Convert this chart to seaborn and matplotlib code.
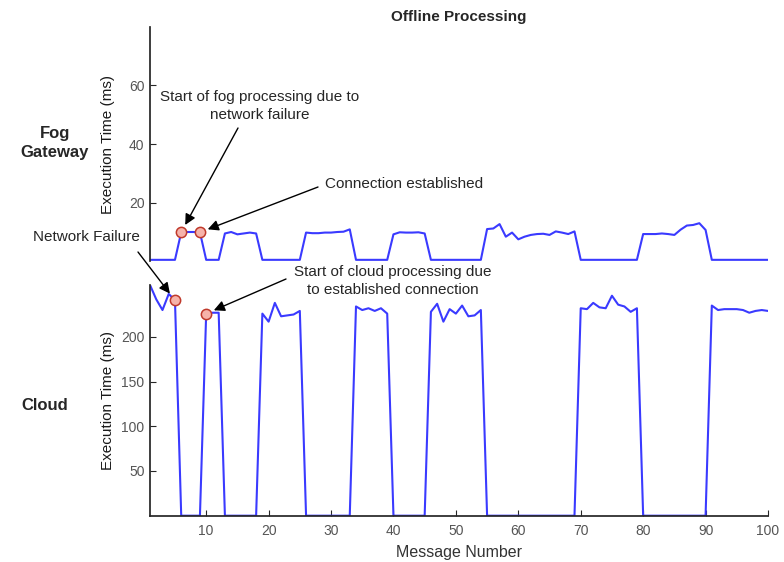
import numpy as np
import pandas as pd
import matplotlib
matplotlib.use("Agg")
import matplotlib.pyplot as plt
import seaborn as sns

# ---------------- data ----------------
message = list(range(1, 101))

fog_time = [
    0.5, 0.5, 0.5, 0.5, 0.5, 9.9, 10.0, 10.0, 9.9, 0.5,          # 1-10
    0.5, 0.5, 9.5, 10.0, 9.2, 9.5, 9.8, 9.5, 0.5, 0.5,           # 11-20
    0.5, 0.5, 0.5, 0.5, 0.5, 9.8, 9.6, 9.6, 9.8, 9.8,            # 21-30
    10.0, 10.1, 10.9, 0.5, 0.5, 0.5, 0.5, 0.5, 0.5, 9.2,         # 31-40
    9.9, 9.8, 9.8, 9.9, 9.5, 0.5, 0.5, 0.5, 0.5, 0.5,            # 41-50
    0.5, 0.5, 0.5, 0.5, 11.0, 11.2, 12.7, 8.4, 9.8, 7.5,         # 51-60
    8.4, 9.0, 9.3, 9.4, 9.0, 10.2, 9.8, 9.3, 10.2, 0.5,          # 61-70
    0.5, 0.5, 0.5, 0.5, 0.5, 0.5, 0.5, 0.5, 0.5, 9.3,            # 71-80
    9.3, 9.3, 9.5, 9.3, 9.0, 10.8, 12.2, 12.4, 13.0, 10.7,       # 81-90
    0.5, 0.5, 0.5, 0.5, 0.5, 0.5, 0.5, 0.5, 0.5, 0.5,            # 91-100
]

cloud_time = [
    258, 242, 230, 248, 241, 0, 0, 0, 0, 226,                    # 1-10
    227, 227, 0, 0, 0, 0, 0, 0, 226, 217,                        # 11-20
    238, 223, 224, 225, 229, 0, 0, 0, 0, 0,                      # 21-30
    0, 0, 0, 234, 230, 232, 229, 232, 226, 0,                    # 31-40
    0, 0, 0, 0, 0, 228, 237, 217, 231, 226,                      # 41-50
    235, 223, 224, 230, 0, 0, 0, 0, 0, 0,                        # 51-60
    0, 0, 0, 0, 0, 0, 0, 0, 0, 232,                              # 61-70
    231, 238, 233, 232, 246, 236, 234, 228, 232, 0,              # 71-80
    0, 0, 0, 0, 0, 0, 0, 0, 0, 0,                                # 81-90
    235, 230, 231, 231, 231, 230, 227, 229, 230, 229,            # 91-100
]

fog_events = [6, 9]      # start of fog processing, connection established
cloud_events = [5, 10]   # network failure, start of cloud processing

fog_yticks = [20, 40, 60]
cloud_yticks = [50, 100, 150, 200]
x_ticks = [10, 20, 30, 40, 50, 60, 70, 80, 90, 100]

title = "Offline Processing"
ylabel = "Execution Time (ms)"
xlabel = "Message Number"

df = pd.DataFrame({"msg": message, "fog": fog_time, "cloud": cloud_time})

# ---------------- style ----------------
sns.set_theme(style="white")
plt.rcParams["font.family"] = ["Liberation Sans", "DejaVu Sans"]

W, H = 784, 562
fig = plt.figure(figsize=(W / 100, H / 100), dpi=100)

def fx(px):
    return px / W

def fy(py):
    return 1 - py / H

left, right = 150, 768
ax_top = fig.add_axes([fx(left), fy(261.3), fx(right - left), (261.3 - 26.9) / H])
ax_bot = fig.add_axes([fx(left), fy(515.7), fx(right - left), (515.7 - 285.0) / H])

line_color = "#3a3aff"
spine_color = "#262626"
tick_color = "#555555"

# top: fog gateway
sns.lineplot(data=df, x="msg", y="fog", ax=ax_top, color=line_color, linewidth=1.5)
fog_ev = df[df["msg"].isin(fog_events)]
sns.scatterplot(data=fog_ev, x="msg", y="fog", ax=ax_top, color="#f6b3aa",
                edgecolor="#c0392b", linewidth=1.1, s=55, zorder=5)
ax_top.set_xlim(1, 100)
ax_top.set_ylim(0, 80)
ax_top.set_yticks(fog_yticks)
ax_top.set_xticks([])
for s in ["top", "right", "bottom"]:
    ax_top.spines[s].set_visible(False)
ax_top.spines["left"].set_color(spine_color)
ax_top.set_xlabel("")
ax_top.set_ylabel(ylabel, fontsize=11, color="#1a1a1a")
ax_top.set_title(title, fontsize=11, fontweight="bold", pad=4)

# bottom: cloud
sns.lineplot(data=df, x="msg", y="cloud", ax=ax_bot, color=line_color, linewidth=1.5)
cloud_ev = df[df["msg"].isin(cloud_events)]
sns.scatterplot(data=cloud_ev, x="msg", y="cloud", ax=ax_bot, color="#f6b3aa",
                edgecolor="#c0392b", linewidth=1.1, s=55, zorder=5)
ax_bot.set_xlim(1, 100)
ax_bot.set_ylim(0, max(cloud_time))
ax_bot.set_yticks(cloud_yticks)
ax_bot.set_xticks(x_ticks)
for s in ["top", "right"]:
    ax_bot.spines[s].set_visible(False)
for s in ["left", "bottom"]:
    ax_bot.spines[s].set_color(spine_color)
ax_bot.set_xlabel(xlabel, fontsize=11.5, color="#333333", labelpad=5)
ax_bot.set_ylabel(ylabel, fontsize=11, color="#1a1a1a")

for ax in (ax_top, ax_bot):
    ax.tick_params(axis="y", left=True, direction="in", length=4, width=0.8,
                   color=spine_color, labelsize=10, labelcolor=tick_color, pad=4)
    ax.yaxis.set_label_coords(-0.057, 0.5)
    ax.patch.set_alpha(0)
ax_bot.tick_params(axis="x", bottom=True, direction="in", length=4, width=0.8,
                   color=spine_color, labelsize=10, labelcolor=tick_color, pad=6)

# row labels
fig.text(fx(55), fy(143), "Fog\nGateway", ha="center", va="center",
         fontsize=12, fontweight="bold", linespacing=1.3)
fig.text(fx(45), fy(405), "Cloud", ha="center", va="center",
         fontsize=12, fontweight="bold")

# annotations
ann_fs = 11
fig.text(fx(260), fy(106), "Start of fog processing due to\nnetwork failure",
         ha="center", va="center", fontsize=ann_fs, multialignment="center",
         linespacing=1.3)
fig.text(fx(325), fy(184), "Connection established", ha="left", va="center",
         fontsize=ann_fs)
fig.text(fx(33), fy(237), "Network Failure", ha="left", va="center",
         fontsize=ann_fs)
fig.text(fx(393), fy(281), "Start of cloud processing due\nto established connection",
         ha="center", va="center", fontsize=ann_fs, multialignment="center",
         linespacing=1.3)

arrow_kw = dict(arrowstyle="-|>", color="black", lw=1.0, mutation_scale=16,
                shrinkA=0, shrinkB=6)

def arrow(ax, x, y, px, py):
    ax.annotate("", xy=(x, y), xycoords="data",
                xytext=(fx(px), fy(py)), textcoords="figure fraction",
                arrowprops=arrow_kw, annotation_clip=False)

arrow(ax_top, fog_events[0], fog_time[fog_events[0] - 1], 238, 128)
arrow(ax_top, fog_events[1], fog_time[fog_events[1] - 1], 318, 187)
arrow(ax_bot, cloud_events[0], cloud_time[cloud_events[0] - 1], 138, 252)
arrow(ax_bot, cloud_events[1], cloud_time[cloud_events[1] - 1], 286, 279)

fig.savefig("out.png", dpi=100)
